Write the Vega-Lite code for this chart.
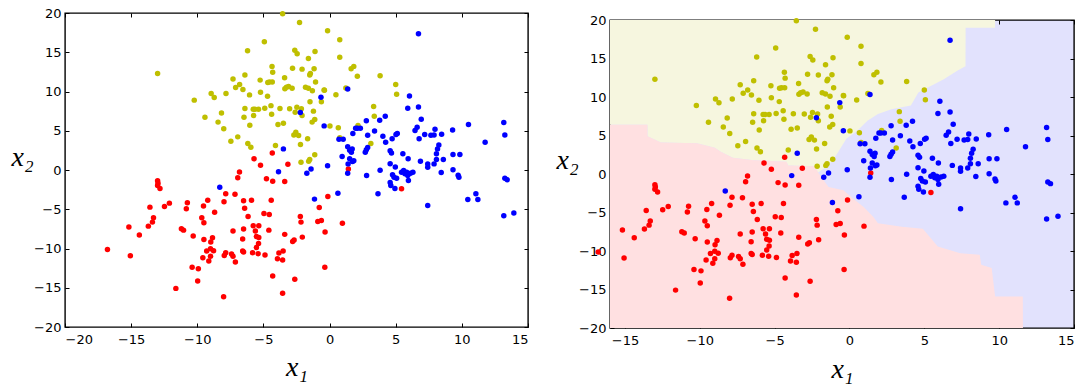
{
"$schema": "https://vega.github.io/schema/vega-lite/v6.json",
"autosize": {"type": "pad"},
"padding": {"left": 10, "top": 6, "right": 0, "bottom": 0},
"background": "white",
"config": {
  "view": {"stroke": "#000", "strokeWidth": 1.4},
  "axis": {"domain": false, "grid": false, "offset": -4, "tickSize": 4, "tickColor": "#000", "tickWidth": 1, "zindex": 1, "labelFont": "DejaVu Sans", "labelFontSize": 13, "labelColor": "#000", "titleColor": "#000", "titleFont": "Liberation Serif", "titleFontStyle": "italic", "titleFontWeight": "normal", "titleFontSize": 28}
},
"datasets": {
  "pts": [
    {"x":-3.55,"y":19.9,"c":"y"},{"x":-2.27,"y":18.8,"c":"y"},{"x":-0.15,"y":17.75,"c":"y"},{"x":-4.93,"y":16.35,"c":"y"},{"x":0.77,"y":16.6,"c":"y"},
    {"x":-6.2,"y":15.2,"c":"y"},{"x":-2.63,"y":15.25,"c":"y"},{"x":-2.45,"y":14.8,"c":"y"},{"x":-1.1,"y":15.1,"c":"y"},{"x":-1.6,"y":14.2,"c":"y"},
    {"x":0.77,"y":14.35,"c":"y"},{"x":-13.0,"y":12.3,"c":"y"},{"x":-4.35,"y":13.2,"c":"y"},{"x":-4.3,"y":12.45,"c":"y"},{"x":-2.8,"y":12.95,"c":"y"},
    {"x":-2.08,"y":12.85,"c":"y"},{"x":-1.17,"y":12.9,"c":"y"},{"x":-1.5,"y":12.1,"c":"y"},{"x":-1.45,"y":12.3,"c":"y"},{"x":1.63,"y":12.9,"c":"y"},
    {"x":1.83,"y":13.2,"c":"y"},{"x":2.1,"y":11.95,"c":"y"},{"x":3.82,"y":12.0,"c":"y"},{"x":-6.4,"y":12.1,"c":"y"},{"x":-7.3,"y":11.6,"c":"y"},
    {"x":-6.8,"y":10.9,"c":"y"},{"x":-7.1,"y":10.5,"c":"y"},{"x":-6.55,"y":10.25,"c":"y"},{"x":-5.25,"y":11.45,"c":"y"},{"x":-4.67,"y":11.15,"c":"y"},
    {"x":-4.54,"y":11.2,"c":"y"},{"x":-4.33,"y":11.2,"c":"y"},{"x":-3.4,"y":11.75,"c":"y"},{"x":-3.38,"y":10.35,"c":"y"},{"x":-3.26,"y":10.55,"c":"y"},
    {"x":-3.1,"y":10.65,"c":"y"},{"x":-2.83,"y":10.4,"c":"y"},{"x":-1.82,"y":10.55,"c":"y"},{"x":-1.6,"y":10.4,"c":"y"},{"x":-1.3,"y":10.1,"c":"y"},
    {"x":-1.06,"y":11.2,"c":"y"},{"x":-0.41,"y":10.2,"c":"y"},{"x":0.48,"y":9.6,"c":"y"},{"x":1.23,"y":10.45,"c":"y"},{"x":5.0,"y":10.9,"c":"y"},
    {"x":5.07,"y":9.65,"c":"y"},{"x":3.33,"y":8.1,"c":"y"},{"x":3.38,"y":6.85,"c":"y"},{"x":-10.23,"y":8.9,"c":"y"},{"x":-8.95,"y":9.75,"c":"y"},
    {"x":-8.72,"y":9.25,"c":"y"},{"x":-7.83,"y":9.75,"c":"y"},{"x":-8.17,"y":7.27,"c":"y"},{"x":-9.42,"y":6.72,"c":"y"},{"x":-8.43,"y":6.1,"c":"y"},
    {"x":-8.0,"y":5.25,"c":"y"},{"x":-7.46,"y":3.67,"c":"y"},{"x":-6.94,"y":4.22,"c":"y"},{"x":-6.47,"y":6.72,"c":"y"},{"x":-6.4,"y":7.83,"c":"y"},
    {"x":-6.05,"y":9.57,"c":"y"},{"x":-6.03,"y":5.7,"c":"y"},{"x":-5.77,"y":7.74,"c":"y"},{"x":-5.64,"y":7.74,"c":"y"},{"x":-5.74,"y":6.93,"c":"y"},
    {"x":-5.37,"y":7.74,"c":"y"},{"x":-4.9,"y":7.87,"c":"y"},{"x":-5.22,"y":9.9,"c":"y"},{"x":-4.69,"y":9.4,"c":"y"},{"x":-4.43,"y":8.2,"c":"y"},
    {"x":-4.38,"y":7.1,"c":"y"},{"x":-6.18,"y":3.37,"c":"y"},{"x":-5.95,"y":2.9,"c":"y"},{"x":-3.9,"y":5.8,"c":"y"},{"x":-3.49,"y":5.96,"c":"y"},
    {"x":-4.09,"y":3.12,"c":"y"},{"x":-3.75,"y":7.83,"c":"y"},{"x":-3.02,"y":7.8,"c":"y"},{"x":-2.6,"y":7.36,"c":"y"},{"x":-2.47,"y":8.0,"c":"y"},
    {"x":-2.13,"y":7.8,"c":"y"},{"x":-2.08,"y":6.93,"c":"y"},{"x":-1.48,"y":8.7,"c":"y"},{"x":-1.22,"y":7.5,"c":"y"},{"x":-1.12,"y":6.43,"c":"y"},
    {"x":-1.32,"y":6.1,"c":"y"},{"x":-0.62,"y":8.7,"c":"y"},{"x":-0.39,"y":10.15,"c":"y"},{"x":-2.7,"y":4.47,"c":"y"},{"x":-2.55,"y":4.8,"c":"y"},
    {"x":-2.34,"y":4.4,"c":"y"},{"x":-2.2,"y":3.25,"c":"y"},{"x":-1.66,"y":3.97,"c":"y"},{"x":-2.16,"y":1.0,"c":"y"},{"x":-1.58,"y":1.12,"c":"y"},
    {"x":-1.5,"y":1.34,"c":"y"},{"x":-1.12,"y":1.93,"c":"y"},{"x":0.03,"y":5.6,"c":"y"},{"x":0.66,"y":5.37,"c":"y"},{"x":0.77,"y":4.1,"c":"y"},
    {"x":2.15,"y":5.66,"c":"y"},{"x":3.12,"y":3.37,"c":"y"},
    {"x":-4.33,"y":2.18,"c":"r"},{"x":-5.71,"y":1.42,"c":"r"},{"x":-5.22,"y":0.61,"c":"r"},{"x":-3.15,"y":0.74,"c":"r"},{"x":-6.81,"y":-0.25,"c":"r"},
    {"x":-6.94,"y":-1.0,"c":"r"},{"x":-4.77,"y":-1.12,"c":"r"},{"x":-4.3,"y":-1.42,"c":"r"},{"x":-3.39,"y":-1.46,"c":"r"},{"x":1.42,"y":0.13,"c":"r"},
    {"x":5.44,"y":-2.4,"c":"r"},{"x":-7.85,"y":-3.03,"c":"r"},{"x":-7.15,"y":-3.08,"c":"r"},{"x":-7.98,"y":-4.05,"c":"r"},{"x":-6.5,"y":-3.92,"c":"r"},
    {"x":-5.9,"y":-3.84,"c":"r"},{"x":-4.41,"y":-3.84,"c":"r"},{"x":-6.42,"y":-4.86,"c":"r"},{"x":-6.16,"y":-5.92,"c":"r"},{"x":-4.96,"y":-5.54,"c":"r"},
    {"x":-4.56,"y":-5.66,"c":"r"},{"x":-5.77,"y":-7.1,"c":"r"},{"x":-5.35,"y":-7.1,"c":"r"},{"x":-5.61,"y":-7.78,"c":"r"},{"x":-4.59,"y":-7.66,"c":"r"},
    {"x":-6.5,"y":-7.53,"c":"r"},{"x":-7.3,"y":-7.78,"c":"r"},{"x":-5.53,"y":-8.46,"c":"r"},{"x":-5.35,"y":-8.59,"c":"r"},{"x":-6.57,"y":-8.8,"c":"r"},
    {"x":-5.37,"y":-9.35,"c":"r"},{"x":-5.53,"y":-9.86,"c":"r"},{"x":-6.57,"y":-10.33,"c":"r"},{"x":-6.5,"y":-10.46,"c":"r"},{"x":-5.82,"y":-10.54,"c":"r"},
    {"x":-5.4,"y":-10.67,"c":"r"},{"x":-4.88,"y":-10.84,"c":"r"},{"x":-7.41,"y":-10.71,"c":"r"},{"x":-7.3,"y":-11.0,"c":"r"},{"x":-7.12,"y":-11.73,"c":"r"},
    {"x":-7.96,"y":-10.88,"c":"r"},{"x":-7.85,"y":-10.54,"c":"r"},{"x":-3.83,"y":-10.58,"c":"r"},{"x":-3.51,"y":-10.33,"c":"r"},{"x":-3.94,"y":-11.3,"c":"r"},
    {"x":-3.55,"y":-11.47,"c":"r"},{"x":-4.3,"y":-13.5,"c":"r"},{"x":-3.55,"y":-15.7,"c":"r"},{"x":-2.63,"y":-13.93,"c":"r"},{"x":-3.39,"y":-8.2,"c":"r"},
    {"x":-2.79,"y":-9.1,"c":"r"},{"x":-2.68,"y":-8.93,"c":"r"},{"x":-2.21,"y":-5.92,"c":"r"},{"x":-2.16,"y":-6.64,"c":"r"},{"x":-2.06,"y":-8.55,"c":"r"},
    {"x":-0.78,"y":-4.77,"c":"r"},{"x":-0.89,"y":-6.55,"c":"r"},{"x":-0.62,"y":-6.43,"c":"r"},{"x":-0.34,"y":-7.91,"c":"r"},{"x":-0.13,"y":-3.37,"c":"r"},
    {"x":0.97,"y":-6.77,"c":"r"},{"x":-0.36,"y":-12.4,"c":"r"},{"x":-13.0,"y":-1.38,"c":"r"},{"x":-12.97,"y":-1.68,"c":"r"},{"x":-13.0,"y":-1.97,"c":"r"},
    {"x":-12.82,"y":-2.35,"c":"r"},{"x":-12.11,"y":-4.22,"c":"r"},{"x":-12.48,"y":-4.64,"c":"r"},{"x":-13.58,"y":-4.73,"c":"r"},{"x":-13.31,"y":-6.09,"c":"r"},
    {"x":-13.39,"y":-6.64,"c":"r"},{"x":-13.7,"y":-7.15,"c":"r"},{"x":-15.17,"y":-7.27,"c":"r"},{"x":-14.38,"y":-8.29,"c":"r"},{"x":-15.06,"y":-10.92,"c":"r"},
    {"x":-16.79,"y":-10.12,"c":"r"},{"x":-11.62,"y":-15.08,"c":"r"},{"x":-10.75,"y":-4.18,"c":"r"},{"x":-10.83,"y":-4.94,"c":"r"},{"x":-11.2,"y":-7.49,"c":"r"},
    {"x":-11.04,"y":-7.66,"c":"r"},{"x":-10.31,"y":-8.42,"c":"r"},{"x":-9.21,"y":-3.84,"c":"r"},{"x":-9.53,"y":-4.6,"c":"r"},{"x":-8.69,"y":-5.37,"c":"r"},
    {"x":-9.66,"y":-6.09,"c":"r"},{"x":-9.5,"y":-6.72,"c":"r"},{"x":-8.85,"y":-8.63,"c":"r"},{"x":-9.5,"y":-8.84,"c":"r"},{"x":-8.98,"y":-9.18,"c":"r"},
    {"x":-9.0,"y":-10.03,"c":"r"},{"x":-9.29,"y":-10.33,"c":"r"},{"x":-8.77,"y":-10.29,"c":"r"},{"x":-9.58,"y":-11.18,"c":"r"},{"x":-9.13,"y":-11.6,"c":"r"},
    {"x":-9.0,"y":-11.0,"c":"r"},{"x":-10.39,"y":-12.4,"c":"r"},{"x":-9.92,"y":-12.58,"c":"r"},{"x":-9.97,"y":-14.15,"c":"r"},{"x":-8.01,"y":-16.14,"c":"r"},
    {"x":6.72,"y":17.37,"c":"b"},{"x":1.37,"y":10.33,"c":"b"},{"x":-0.65,"y":9.27,"c":"b"},{"x":-2.21,"y":7.32,"c":"b"},{"x":6.04,"y":9.44,"c":"b"},
    {"x":5.91,"y":7.87,"c":"b"},{"x":6.72,"y":8.04,"c":"b"},{"x":6.93,"y":6.47,"c":"b"},{"x":4.21,"y":6.85,"c":"b"},{"x":3.79,"y":6.34,"c":"b"},
    {"x":2.78,"y":6.26,"c":"b"},{"x":2.1,"y":5.32,"c":"b"},{"x":1.97,"y":5.32,"c":"b"},{"x":2.33,"y":5.32,"c":"b"},{"x":-0.41,"y":5.62,"c":"b"},
    {"x":1.76,"y":4.64,"c":"b"},{"x":2.88,"y":4.43,"c":"b"},{"x":3.4,"y":4.98,"c":"b"},{"x":4.03,"y":4.3,"c":"b"},{"x":4.24,"y":3.54,"c":"b"},
    {"x":4.73,"y":3.97,"c":"b"},{"x":5.02,"y":4.52,"c":"b"},{"x":5.12,"y":4.64,"c":"b"},{"x":6.46,"y":5.03,"c":"b"},{"x":6.62,"y":5.45,"c":"b"},
    {"x":6.77,"y":3.97,"c":"b"},{"x":7.19,"y":4.52,"c":"b"},{"x":7.66,"y":4.43,"c":"b"},{"x":7.9,"y":4.47,"c":"b"},{"x":7.97,"y":5.2,"c":"b"},
    {"x":8.47,"y":4.56,"c":"b"},{"x":9.3,"y":5.11,"c":"b"},{"x":10.5,"y":5.79,"c":"b"},{"x":13.17,"y":6.04,"c":"b"},{"x":13.25,"y":4.47,"c":"b"},
    {"x":11.76,"y":3.54,"c":"b"},{"x":0.71,"y":3.92,"c":"b"},{"x":1.03,"y":3.92,"c":"b"},{"x":-3.49,"y":2.69,"c":"b"},{"x":1.37,"y":2.95,"c":"b"},
    {"x":1.71,"y":2.69,"c":"b"},{"x":1.52,"y":2.52,"c":"b"},{"x":1.65,"y":2.27,"c":"b"},{"x":0.95,"y":1.72,"c":"b"},{"x":1.52,"y":1.42,"c":"b"},
    {"x":1.4,"y":0.78,"c":"b"},{"x":1.73,"y":1.08,"c":"b"},{"x":1.83,"y":1.17,"c":"b"},{"x":1.37,"y":-0.42,"c":"b"},{"x":-0.15,"y":0.55,"c":"b"},
    {"x":-1.4,"y":0.13,"c":"b"},{"x":-1.72,"y":-0.42,"c":"b"},{"x":-3.86,"y":-0.21,"c":"b"},{"x":-8.3,"y":-2.2,"c":"b"},{"x":-1.14,"y":-3.71,"c":"b"},
    {"x":0.63,"y":-2.95,"c":"b"},{"x":2.78,"y":2.57,"c":"b"},{"x":2.88,"y":2.86,"c":"b"},{"x":2.7,"y":2.27,"c":"b"},{"x":2.8,"y":-0.7,"c":"b"},
    {"x":3.82,"y":-0.02,"c":"b"},{"x":3.66,"y":-3.03,"c":"b"},{"x":4.58,"y":2.44,"c":"b"},{"x":4.68,"y":2.18,"c":"b"},{"x":4.58,"y":0.81,"c":"b"},
    {"x":4.97,"y":0.39,"c":"b"},{"x":4.76,"y":-0.59,"c":"b"},{"x":4.87,"y":-0.92,"c":"b"},{"x":5.07,"y":-1.04,"c":"b"},{"x":4.58,"y":-1.59,"c":"b"},
    {"x":4.63,"y":-1.97,"c":"b"},{"x":4.94,"y":-2.35,"c":"b"},{"x":5.54,"y":2.06,"c":"b"},{"x":5.94,"y":1.42,"c":"b"},{"x":5.44,"y":-0.28,"c":"b"},
    {"x":5.6,"y":-0.06,"c":"b"},{"x":5.7,"y":-0.49,"c":"b"},{"x":5.83,"y":-0.28,"c":"b"},{"x":5.91,"y":-0.7,"c":"b"},{"x":6.12,"y":-0.4,"c":"b"},
    {"x":5.96,"y":-1.33,"c":"b"},{"x":6.3,"y":-0.28,"c":"b"},{"x":6.87,"y":1.12,"c":"b"},{"x":7.42,"y":0.78,"c":"b"},{"x":7.42,"y":0.35,"c":"b"},
    {"x":7.42,"y":-4.52,"c":"b"},{"x":7.9,"y":0.78,"c":"b"},{"x":8.08,"y":1.34,"c":"b"},{"x":8.16,"y":2.69,"c":"b"},{"x":8.26,"y":3.2,"c":"b"},
    {"x":8.08,"y":2.06,"c":"b"},{"x":8.6,"y":1.34,"c":"b"},{"x":8.44,"y":-0.32,"c":"b"},{"x":9.33,"y":1.97,"c":"b"},{"x":9.33,"y":0.04,"c":"b"},
    {"x":9.72,"y":-0.66,"c":"b"},{"x":9.78,"y":-0.92,"c":"b"},{"x":9.85,"y":1.97,"c":"b"},{"x":10.45,"y":-3.75,"c":"b"},{"x":11.06,"y":-3.03,"c":"b"},
    {"x":11.21,"y":-3.75,"c":"b"},{"x":13.25,"y":-1.04,"c":"b"},{"x":13.43,"y":-1.25,"c":"b"},{"x":13.17,"y":-5.83,"c":"b"},{"x":13.93,"y":-5.49,"c":"b"}
  ],
  "yellowRegion": [
    {"x":-16.04,"y":6.38},{"x":-13.5,"y":6.38},{"x":-13.49,"y":4.9},{"x":-12.6,"y":4.1},{"x":-10.2,"y":4.0},{"x":-9.0,"y":3.4},{"x":-8.6,"y":2.9},
    {"x":-7.8,"y":2.1},{"x":-6.4,"y":1.8},{"x":-4.2,"y":1.6},{"x":-4.1,"y":1.1},{"x":-2.3,"y":1.0},{"x":-2.1,"y":0.2},{"x":-1.4,"y":1.1},
    {"x":-0.9,"y":2.4},{"x":-0.2,"y":4.6},{"x":0.5,"y":5.6},{"x":1.2,"y":6.9},{"x":1.9,"y":7.8},{"x":2.8,"y":8.4},{"x":4.1,"y":8.9},
    {"x":4.6,"y":10.6},{"x":5.3,"y":11.3},{"x":6.3,"y":12.3},{"x":7.2,"y":13.4},{"x":7.75,"y":14.0},{"x":7.76,"y":19.0},{"x":9.72,"y":19.0},{"x":9.73,"y":20.0}
  ],
  "pinkRegion": [
    {"x":-16.04,"y":6.38},{"x":-13.5,"y":6.38},{"x":-13.49,"y":4.9},{"x":-12.6,"y":4.1},{"x":-10.2,"y":4.0},{"x":-9.0,"y":3.4},{"x":-8.6,"y":2.9},
    {"x":-7.8,"y":2.1},{"x":-6.4,"y":1.8},{"x":-4.2,"y":1.6},{"x":-4.1,"y":1.1},{"x":-2.3,"y":1.0},{"x":-2.1,"y":0.2},{"x":-1.4,"y":-1.7},
    {"x":-0.4,"y":-2.1},{"x":0.25,"y":-3.2},{"x":0.95,"y":-4.3},{"x":1.6,"y":-5.6},{"x":1.9,"y":-6.4},{"x":3.5,"y":-6.85},{"x":4.9,"y":-7.1},
    {"x":5.9,"y":-9.4},{"x":7.4,"y":-10.3},{"x":8.7,"y":-10.5},{"x":8.8,"y":-11.8},{"x":9.5,"y":-12.2},{"x":9.73,"y":-15.9},{"x":11.58,"y":-15.9},{"x":11.59,"y":-20}
  ]
},
"hconcat": [
  {
    "width": 463, "height": 314,
    "view": {"fill": "white", "stroke": "#000"},
    "layer": [
      {
        "data": {"name": "pts"},
        "mark": {"type": "circle", "size": 30, "opacity": 1},
        "encoding": {
          "x": {"field": "x", "type": "quantitative", "scale": {"domain": [-20, 15], "nice": false, "zero": false},
                "axis": {"orient": "bottom", "values": [-20,-15,-10,-5,0,5,10,15], "labelPadding": 6, "title": "x₁", "titleY": 52, "titleBaseline": "alphabetic"}},
          "y": {"field": "y", "type": "quantitative", "scale": {"domain": [-20, 20], "nice": false, "zero": false},
                "axis": {"orient": "left", "values": [-20,-15,-10,-5,0,5,10,15,20], "labelPadding": 4, "title": "x₂", "titleAngle": 0, "titleX": -58, "titleY": 152, "titleAlign": "left", "titleBaseline": "alphabetic"}},
          "color": {"field": "c", "type": "nominal", "scale": {"domain": ["r", "y", "b"], "range": ["#ff0000", "#bfbf00", "#0000ff"]}, "legend": null}
        }
      },
      {
        "data": {"name": "pts"},
        "mark": {"type": "circle", "opacity": 0},
        "encoding": {
          "x": {"field": "x", "type": "quantitative", "axis": {"orient": "top", "values": [-20,-15,-10,-5,0,5,10,15], "labels": false, "title": null}},
          "y": {"field": "y", "type": "quantitative", "axis": {"orient": "right", "values": [-20,-15,-10,-5,0,5,10,15,20], "labels": false, "title": null}}
        }
      }
    ],
    "resolve": {"axis": {"x": "independent", "y": "independent"}}
  },
  {
    "vconcat": [
      {"width": 464, "height": 2, "data": {"values": []}, "mark": "point", "encoding": {}, "view": {"stroke": null}},
      {
        "width": 464, "height": 308,
        "view": {"fill": "#e2e2fd", "stroke": "#000"},
        "layer": [
          {
            "data": {"name": "yellowRegion"},
            "mark": {"type": "area", "color": "#f6f6df", "clip": true},
            "encoding": {
              "x": {"field": "x", "type": "quantitative", "scale": {"domain": [-16, 15], "nice": false, "zero": false},
                    "axis": {"orient": "top", "values": [-15,-10,-5,0,5,10,15], "labels": false, "title": null}},
              "y": {"field": "y", "type": "quantitative", "scale": {"domain": [-20, 20], "nice": false, "zero": false},
                    "axis": {"orient": "right", "values": [-20,-15,-10,-5,0,5,10,15,20], "labels": false, "title": null}},
              "y2": {"datum": 20}
            }
          },
          {
            "data": {"name": "pinkRegion"},
            "mark": {"type": "area", "color": "#ffe0e1", "clip": true},
            "encoding": {
              "x": {"field": "x", "type": "quantitative", "axis": null},
              "y": {"field": "y", "type": "quantitative", "axis": null},
              "y2": {"datum": -20}
            }
          },
          {
            "data": {"name": "pts"},
            "mark": {"type": "circle", "size": 30, "opacity": 1},
            "encoding": {
              "x": {"field": "x", "type": "quantitative",
                    "axis": {"orient": "bottom", "values": [-15,-10,-5,0,5,10,15], "labelPadding": 6, "title": "x₁", "titleY": 53, "titleBaseline": "alphabetic"}},
              "y": {"field": "y", "type": "quantitative",
                    "axis": {"orient": "left", "values": [-20,-15,-10,-5,0,5,10,15,20], "labelPadding": 4, "title": "x₂", "titleAngle": 0, "titleX": -58, "titleY": 148, "titleAlign": "left", "titleBaseline": "alphabetic"}},
              "color": {"field": "c", "type": "nominal", "scale": {"domain": ["r", "y", "b"], "range": ["#ff0000", "#bfbf00", "#0000ff"]}, "legend": null}
            }
          }
        ],
        "resolve": {"axis": {"x": "independent", "y": "independent"}}
      }
    ],
    "spacing": 5,
    "bounds": "flush"
  }
],
"spacing": 82,
"bounds": "flush"
}
